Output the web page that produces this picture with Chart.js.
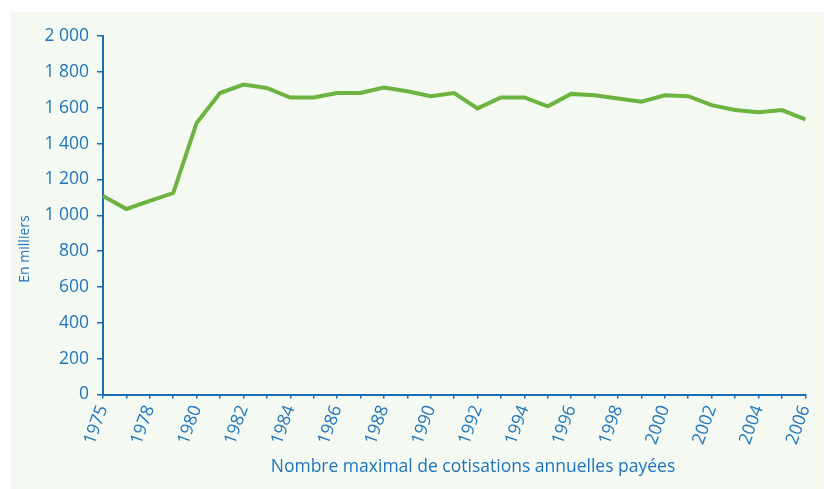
<!DOCTYPE html>
<html>
<head>
<meta charset="utf-8">
<script src="https://cdn.jsdelivr.net/npm/chart.js@4/dist/chart.umd.min.js"></script>
<style>
  html, body { margin: 0; padding: 0; background: #ffffff; }
  #wrap { width: 829px; height: 489px; position: relative; }
</style>
</head>
<body>
<div id="wrap"><canvas id="c" width="829" height="489"></canvas></div>
<script>
// ---- data ----
const years = ['1975','1977','1978','1979','1980','1981','1982','1983','1984','1985','1986','1987','1988','1989','1990','1991','1992','1993','1994','1995','1996','1997','1998','1999','2000','2001','2002','2003','2004','2005','2006'];
const values = [1108,1035,1080,1124,1515,1682,1729,1710,1657,1657,1682,1682,1712,1692,1664,1682,1596,1657,1657,1608,1677,1670,1651,1633,1669,1664,1614,1587,1574,1587,1535];
const yMin = 0, yMax = 2000, yStep = 200;
const xTitle = 'Nombre maximal de cotisations annuelles payées';
const yTitle = 'En milliers';

const BLUE = '#1f74bb';
const AXIS = '#1a6cb4';
const GREEN = '#6cb43f';
const FONT = '"Open Sans", Lato, sans-serif';

function fmt(v) {
  const s = String(Math.round(v));
  return s.replace(/\B(?=(\d{3})+(?!\d))/g, ' ');
}

const panelPlugin = {
  id: 'panel',
  beforeDraw(chart) {
    const ctx = chart.ctx;
    ctx.save();
    ctx.fillStyle = '#ffffff';
    ctx.fillRect(0, 0, chart.width, chart.height);
    ctx.fillStyle = '#f4f9f2';
    ctx.fillRect(10, 12, 814, 477);
    ctx.restore();
  },
  afterDraw(chart) {
    const ctx = chart.ctx;
    ctx.save();
    ctx.fillStyle = BLUE;
    ctx.textAlign = 'center';
    ctx.textBaseline = 'middle';
    ctx.font = '17.5px ' + FONT;
    ctx.fillText(xTitle, 473, 467);
    ctx.translate(25, 249);
    ctx.rotate(-Math.PI / 2);
    ctx.font = '14px ' + FONT;
    ctx.fillText(yTitle, 0, 0);
    ctx.restore();
  }
};

new Chart(document.getElementById('c'), {
  type: 'line',
  data: {
    labels: years,
    datasets: [{
      data: values,
      borderColor: GREEN,
      borderWidth: 4,
      pointRadius: 0,
      tension: 0,
      fill: false,
      borderJoinStyle: 'miter'
    }]
  },
  options: {
    responsive: false,
    animation: false,
    devicePixelRatio: 1,
    layout: { padding: { top: 36, right: 16, left: 0, bottom: 0 } },
    plugins: { legend: { display: false }, tooltip: { enabled: false } },
    scales: {
      x: {
        type: 'category',
        offset: false,
        afterFit(scale) { scale.height = 489 - 394.5; },
        grid: { display: true, drawOnChartArea: false, drawTicks: true, tickLength: 4, color: AXIS, lineWidth: 1.5 },
        border: { display: true, color: AXIS, width: 2 },
        ticks: {
          autoSkip: false,
          minRotation: 70,
          maxRotation: 70,
          padding: 4,
          color: BLUE,
          font: { size: 17.5, family: FONT },
          callback(v, i) { return i % 2 === 0 ? years[i] : ''; }
        }
      },
      y: {
        min: yMin,
        max: yMax,
        afterFit(scale) { scale.width = 103; },
        grid: { display: true, drawOnChartArea: false, drawTicks: true, tickLength: 6, color: AXIS, lineWidth: 1.5 },
        border: { display: true, color: AXIS, width: 2 },
        ticks: {
          stepSize: yStep,
          padding: 8,
          color: BLUE,
          font: { size: 17.5, family: FONT },
          callback(v) { return fmt(v); }
        }
      }
    }
  },
  plugins: [panelPlugin]
});
</script>
</body>
</html>
